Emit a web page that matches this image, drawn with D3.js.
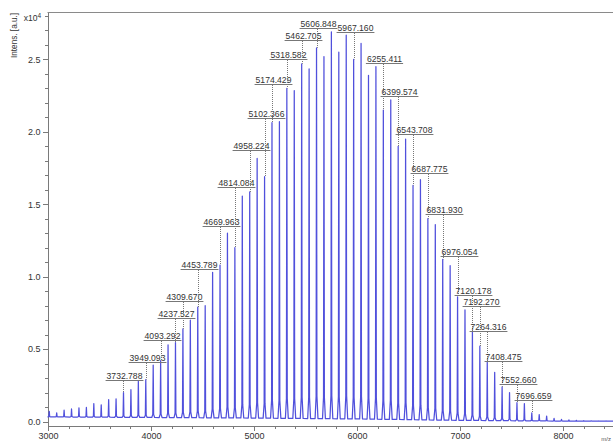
<!DOCTYPE html>
<html>
<head>
<meta charset="utf-8">
<script src="https://cdn.jsdelivr.net/npm/d3@7"></script>
<style>
  html, body { margin: 0; padding: 0; background: #fff; }
  svg { display: block; font-family: "Liberation Sans", Arial, sans-serif; }
  .axis path, .axis line { stroke: #7a7a7a; shape-rendering: crispEdges; }
  .axis text { fill: #333; font-size: 9px; font-family: "Liberation Sans", Arial, sans-serif; }
</style>
</head>
<body>
<div id="chart"></div>
<script>
// peak centroids (m/z) and apex intensities (x10^4 a.u.)
const peakMz = [
  3012.1, 3084.2, 3156.2, 3228.3, 3300.4, 3372.5, 3444.6, 3516.6, 3588.7, 3660.7,
  3732.8, 3804.9, 3877.0, 3949.1, 4021.2, 4093.3, 4165.4, 4237.5, 4309.7, 4381.7,
  4453.8, 4525.9, 4597.9, 4670.0, 4742.0, 4814.1, 4886.2, 4958.2, 5030.3, 5102.4,
  5174.4, 5246.5, 5318.6, 5390.6, 5462.7, 5534.8, 5606.8, 5678.9, 5751.0, 5823.1,
  5895.1, 5967.2, 6039.2, 6111.3, 6183.4, 6255.4, 6327.5, 6399.6, 6471.6, 6543.7,
  6615.7, 6687.8, 6759.9, 6831.9, 6904.0, 6976.1, 7048.1, 7120.2, 7192.3, 7264.3,
  7336.4, 7408.5, 7480.6, 7552.7, 7624.7, 7696.7, 7768.7, 7840.8, 7912.9, 7985.0,
  8057.0, 8129.1, 8201.2, 8273.2, 8345.3, 8417.4, 8489.4
];
const peakInt = [
  0.070, 0.060, 0.078, 0.087, 0.094, 0.097, 0.124, 0.115, 0.152, 0.157,
  0.200, 0.220, 0.278, 0.290, 0.390, 0.420, 0.530, 0.545, 0.640, 0.700,
  0.790, 0.800, 1.030, 1.080, 1.300, 1.200, 1.557, 1.585, 1.816, 1.690,
  2.064, 2.070, 2.300, 2.285, 2.470, 2.434, 2.580, 2.520, 2.690, 2.550,
  2.667, 2.500, 2.610, 2.390, 2.450, 2.150, 2.220, 1.900, 1.950, 1.630,
  1.670, 1.400, 1.360, 1.120, 1.076, 0.860, 0.770, 0.620, 0.520, 0.410,
  0.340, 0.240, 0.200, 0.130, 0.124, 0.060, 0.048, 0.037, 0.022, 0.015,
  0.011, 0.008, 0.006, 0.005, 0.004, 0.004, 0.003
];

// baseline level along the spectrum
const baseMz  = [2995, 4000, 5000, 6000, 7000, 8000, 8553];
const baseInt = [0.032, 0.028, 0.024, 0.018, 0.008, 0.003, 0.002];

// annotated peaks and the level their label sits at
const peakLabels = [
  "3732.788", "3949.093", "4093.292", "4237.527", "4309.670", "4453.789",
  "4669.963", "4814.084", "4958.224", "5102.366", "5174.429", "5318.582",
  "5462.705", "5606.848", "5967.160", "6255.411", "6399.574", "6543.708",
  "6687.775", "6831.930", "6976.054", "7120.178", "7192.270", "7264.316",
  "7408.475", "7552.660", "7696.659"
];
const labelLevel = [
  0.296, 0.420, 0.572, 0.723, 0.840, 1.057,
  1.357, 1.625, 1.880, 2.104, 2.338, 2.510,
  2.638, 2.724, 2.696, 2.483, 2.252, 1.990,
  1.722, 1.443, 1.147, 0.882, 0.806, 0.630,
  0.424, 0.269, 0.158
];

const xTicks = [3000, 4000, 5000, 6000, 7000, 8000];
const xMinor = d3.range(3000, 8600, 200);
const yTicks = [0, 0.5, 1.0, 1.5, 2.0, 2.5];
const yMinor = d3.range(0, 2.85, 0.1);

const W = 613, H = 444;
const svg = d3.select("#chart").append("svg")
  .attr("width", W).attr("height", H);

const x = d3.scaleLinear().domain([2995, 8553]).range([47.5, 620]);
const y = d3.scaleLinear().domain([-0.0275, 2.824]).range([425.5, 12.5]);
const base = d3.scaleLinear().domain(baseMz).range(baseInt);

// top frame
svg.append("line")
  .attr("x1", 47.5).attr("x2", W).attr("y1", 12.5).attr("y2", 12.5)
  .attr("stroke", "#8a8a8a");

// axes
svg.append("g").attr("class", "axis")
  .attr("transform", "translate(0,425.5)")
  .call(d3.axisBottom(x).tickValues(xMinor).tickSize(3).tickSizeOuter(0).tickFormat(""));
svg.append("g").attr("class", "axis")
  .attr("transform", "translate(0,425.5)")
  .call(d3.axisBottom(x).tickValues(xTicks).tickSize(5).tickSizeOuter(0).tickFormat(d3.format("d")))
  .call(g => g.selectAll("text").attr("dy", "0.6em"));

svg.append("g").attr("class", "axis")
  .attr("transform", "translate(47.5,0)")
  .call(d3.axisLeft(y).tickValues(yMinor).tickSize(3).tickSizeOuter(0).tickFormat(""));
svg.append("g").attr("class", "axis")
  .attr("transform", "translate(47.5,0)")
  .call(d3.axisLeft(y).tickValues(yTicks).tickSize(5).tickSizeOuter(0).tickFormat(d3.format(".1f")))
  .call(g => g.selectAll("text").attr("x", -7));

// exponent and axis titles
const expo = svg.append("text")
  .attr("x", 41).attr("y", 20.5)
  .attr("text-anchor", "end")
  .attr("font-size", 8.5).attr("fill", "#333");
expo.append("tspan").text("x10");
expo.append("tspan").attr("dy", -3).attr("font-size", 6.5).text("4");

svg.append("text")
  .attr("transform", "translate(17,58) rotate(-90)")
  .attr("font-size", 8.2).attr("fill", "#333")
  .text("Intens. [a.u.]");

svg.append("text")
  .attr("x", 611).attr("y", 441)
  .attr("text-anchor", "end")
  .attr("font-size", 6).attr("fill", "#555")
  .text("m/z");

// spectrum trace: each centroid drawn as a narrow profile peak
const pts = [[2995, base(2995)]];
peakMz.forEach((m, i) => {
  const b = base(m), h = peakInt[i] - b;
  pts.push([m - 14, b], [m - 4, b + h * 0.06], [m, peakInt[i]], [m + 4, b + h * 0.06], [m + 14, b]);
});
pts.push([8553, base(8553)]);

const line = d3.line().x(d => x(d[0])).y(d => y(d[1]));
svg.append("path")
  .attr("d", line(pts))
  .attr("fill", "none")
  .attr("stroke", "#5050dc")
  .attr("stroke-width", 1.25)
  .attr("stroke-linejoin", "round");

// peak labels with underline and dotted leader
const lab = svg.append("g");
peakLabels.forEach((t, i) => {
  const m = +t;
  const k = d3.minIndex(peakMz, v => Math.abs(v - m));
  const px = Math.round(x(m)) + 0.5;
  const ly = y(labelLevel[i]);
  const txt = lab.append("text")
    .attr("x", px + 1).attr("y", ly)
    .attr("text-anchor", "middle")
    .attr("font-size", 8.6).attr("fill", "#333")
    .text(t);
  const w = txt.node().getComputedTextLength();
  lab.append("line")
    .attr("x1", px + 1 - w / 2 - 1).attr("x2", px + 1 + w / 2 + 1)
    .attr("y1", Math.round(ly) + 1.5).attr("y2", Math.round(ly) + 1.5)
    .attr("stroke", "#777");
  lab.append("line")
    .attr("x1", px).attr("x2", px)
    .attr("y1", Math.round(ly) + 2).attr("y2", y(peakInt[k]))
    .attr("stroke", "#777")
    .attr("stroke-dasharray", "1,1");
});
</script>
</body>
</html>
